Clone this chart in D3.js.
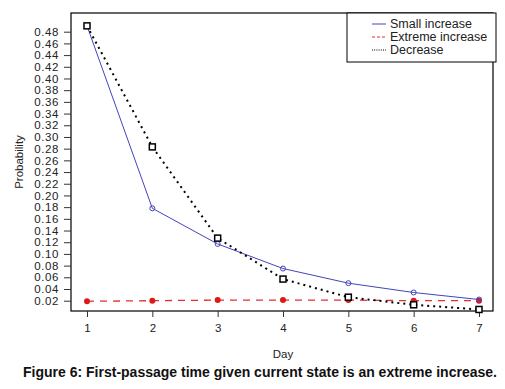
<!DOCTYPE html>
<html><head><meta charset="utf-8">
<script src="https://cdn.jsdelivr.net/npm/d3@7"></script>
<style>body{margin:0;background:#fff;}svg{display:block;font-family:"Liberation Sans",Arial,sans-serif;}</style>
</head><body><svg id="c" width="505" height="389"></svg>
<script>
const days = [1,2,3,4,5,6,7];
const smallIncrease = [0.490, 0.178, 0.117, 0.075, 0.050, 0.034, 0.022];
const extremeIncrease = [0.019, 0.020, 0.021, 0.021, 0.021, 0.020, 0.020];
const decrease = [0.490, 0.283, 0.127, 0.057, 0.026, 0.013, 0.005];
const yTicks = d3.range(0.02, 0.4801, 0.02);
const legendLabels = ["Small increase","Extreme increase","Decrease"];

const svg = d3.select("#c");
const x = d3.scaleLinear().domain([1,7]).range([87,479]);
const y = d3.scaleLinear().domain([0.02,0.48]).range([300.7,31.7]);

// plot box
svg.append("rect").attr("x",71).attr("y",13).attr("width",422).attr("height",298)
  .attr("fill","none").attr("stroke","#000").attr("stroke-width",1.2);

// y axis
const ya = svg.append("g").attr("transform","translate(71,0)")
  .call(d3.axisLeft(y).tickValues(yTicks).tickFormat(d3.format(".2f")).tickSize(7).tickPadding(5));
ya.select(".domain").remove();
ya.selectAll("line").attr("stroke","#333");
ya.selectAll("text").attr("font-size",11.5).attr("letter-spacing",0.6).attr("fill","#222").attr("font-family","Liberation Sans, Arial");

// x axis
const xa = svg.append("g").attr("transform","translate(0,311)")
  .call(d3.axisBottom(x).tickValues(days).tickFormat(d3.format("d")).tickSize(6).tickPadding(7));
xa.select(".domain").remove();
xa.selectAll("line").attr("stroke","#333");
xa.selectAll("text").attr("font-size",11.5).attr("fill","#222").attr("font-family","Liberation Sans, Arial");

// axis titles
svg.append("text").attr("x",283).attr("y",358).attr("text-anchor","middle")
  .attr("font-size",11.5).attr("fill","#222").text("Day");
svg.append("text").attr("transform","translate(23,162) rotate(-90)").attr("text-anchor","middle")
  .attr("font-size",11.5).attr("fill","#222").text("Probability");

const line = d3.line().x((d,i)=>x(days[i])).y(d=>y(d));

// extreme increase (red dashed, filled dots)
svg.append("path").datum(extremeIncrease).attr("d",line).attr("fill","none")
  .attr("stroke","#e03030").attr("stroke-width",1.3).attr("stroke-dasharray","7,6");
svg.selectAll(".ed").data(extremeIncrease).enter().append("circle")
  .attr("cx",(d,i)=>x(days[i])).attr("cy",d=>y(d)).attr("r",3).attr("fill","#e01818");

// small increase (blue)
svg.append("path").datum(smallIncrease).attr("d",line).attr("fill","none")
  .attr("stroke","#4444bb").attr("stroke-width",1);
svg.selectAll(".sd").data(smallIncrease).enter().append("circle")
  .attr("cx",(d,i)=>x(days[i])).attr("cy",d=>y(d)).attr("r",2.5)
  .attr("fill","none").attr("stroke","#4444bb").attr("stroke-width",1);

// decrease (black dotted, open squares)
svg.append("path").datum(decrease).attr("d",line).attr("fill","none")
  .attr("stroke","#000").attr("stroke-width",2).attr("stroke-dasharray","2,4");
svg.selectAll(".dd").data(decrease).enter().append("rect")
  .attr("x",(d,i)=>x(days[i])-3).attr("y",d=>y(d)-3).attr("width",6).attr("height",6)
  .attr("fill","#fff").attr("stroke","#000").attr("stroke-width",1.5);

// legend
const lg = svg.append("g");
lg.append("rect").attr("x",347).attr("y",13).attr("width",149).attr("height",49)
  .attr("fill","#fff").attr("stroke","#000").attr("stroke-width",1);
const lstyles = [
  {c:"#4444bb",w:1,da:null},
  {c:"#e03030",w:1,da:"3,2"},
  {c:"#000",w:1,da:"1,1.2"}
];
legendLabels.forEach((t,i)=>{
  const yy = 24 + i*13;
  lg.append("line").attr("x1",372).attr("x2",386).attr("y1",yy).attr("y2",yy)
    .attr("stroke",lstyles[i].c).attr("stroke-width",lstyles[i].w)
    .attr("stroke-dasharray",lstyles[i].da);
  lg.append("text").attr("x",390).attr("y",yy+4).attr("font-size",12.5).attr("fill","#222").text(t);
});

// caption
svg.append("text").attr("x",260).attr("y",377).attr("text-anchor","middle")
  .attr("font-size",14).attr("font-weight","bold").attr("fill","#111")
  .text("Figure 6: First-passage time given current state is an extreme increase.");
</script></body></html>
